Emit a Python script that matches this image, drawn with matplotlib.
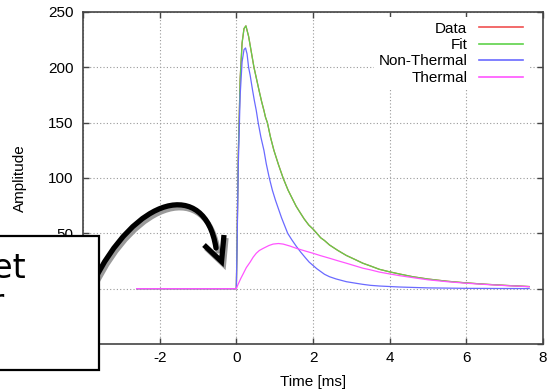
import matplotlib
matplotlib.use("Agg")
import matplotlib.pyplot as plt
from matplotlib.lines import Line2D
from matplotlib.patches import Rectangle, PathPatch
from matplotlib.path import Path
from matplotlib.transforms import offset_copy

plt.rcParams["font.family"] = ["Liberation Sans", "DejaVu Sans"]
plt.rcParams["axes.unicode_minus"] = False

# values (time in ms, amplitude)
data_t = [-2.6, -1.5, -0.5, 0.0, 0.02, 0.05, 0.10, 0.15, 0.20, 0.25, 0.32, 0.39, 0.46, 0.53,
          0.6, 0.66, 0.72, 0.76, 0.81, 0.89, 0.98, 1.1, 1.22, 1.35, 1.48, 1.56, 1.65, 1.77,
          1.89, 2.0, 2.1, 2.2, 2.3, 2.43, 2.65, 2.87, 3.1, 3.3, 3.5, 3.73, 4.0, 4.25, 4.6,
          5.0, 5.5, 6.0, 6.5, 7.0, 7.64]
data_y = [0, 0, 0, 0, 45, 120, 190, 222, 235, 237.5, 228, 214, 200, 189,
          178, 169, 161, 155, 150, 137, 125, 112, 100, 89, 80, 74.5, 69.5, 63,
          57.5, 53.9, 50, 46, 43.5, 39.5, 34.5, 30, 26.3, 23, 20.5, 17.5, 15.2, 13.3, 10.8,
          8.7, 6.7, 5.2, 4.0, 3.0, 1.9]

fit_t = [-2.6, -1.5, -0.5, 0.0, 0.02, 0.05, 0.10, 0.15, 0.20, 0.25, 0.32, 0.39, 0.46, 0.53,
         0.6, 0.66, 0.72, 0.76, 0.81, 0.89, 0.98, 1.1, 1.22, 1.35, 1.48, 1.56, 1.65, 1.77,
         1.89, 2.0, 2.1, 2.2, 2.3, 2.43, 2.65, 2.87, 3.1, 3.3, 3.5, 3.73, 4.0, 4.25, 4.6,
         5.0, 5.5, 6.0, 6.5, 7.0, 7.64]
fit_y = [0, 0, 0, 0, 45, 120, 190, 222, 235, 237.5, 228, 214, 200, 189,
         178, 169, 161, 155, 150, 137, 125, 112, 100, 89, 80, 74.5, 69.5, 63,
         57.5, 53.9, 50, 46, 43.5, 39.5, 34.5, 30, 26.3, 23, 20.5, 17.5, 15.2, 13.3, 10.8,
         8.7, 6.7, 5.2, 4.0, 3.0, 1.9]

nt_t = [-2.6, -1.5, -0.5, 0.0, 0.02, 0.05, 0.10, 0.15, 0.20, 0.24, 0.28, 0.32, 0.36, 0.42,
        0.47, 0.52, 0.57, 0.64, 0.72, 0.78, 0.86, 0.94, 1.02, 1.1, 1.18, 1.26, 1.34, 1.45,
        1.57, 1.68, 1.8, 1.9, 2.0, 2.1, 2.2, 2.3, 2.43, 2.6, 2.87, 3.1, 3.3, 3.5, 3.73,
        4.25, 5.0, 6.0, 7.0, 7.64]
nt_y = [0, 0, 0, 0, 40, 110, 175, 205, 216, 217.5, 212, 200, 193, 180,
        170, 161, 150, 137, 125, 113, 100, 89, 80, 72, 64, 57, 50, 44,
        38, 33, 28, 24, 21, 18, 15.5, 13, 10.8, 8.8, 6.3, 5, 3.9, 3, 2.4,
        1.5, 0.7, 0.3, 0.15, 0.1]

th_t = [-2.6, -1.5, -0.5, 0.0, 0.04, 0.08, 0.12, 0.18, 0.26, 0.36, 0.44, 0.52, 0.6, 0.7,
        0.85, 0.96, 1.1, 1.22, 1.4, 1.57, 1.8, 2.0, 2.2, 2.43, 2.65, 2.87, 3.1, 3.3, 3.5,
        3.73, 4.0, 4.25, 4.6, 5.0, 5.5, 6.0, 6.5, 7.0, 7.64]
th_y = [0, 0, 0, 0, 3.5, 6.5, 9.5, 13.5, 19, 24, 28.5, 32, 34.5, 36.4,
        39, 40.3, 40.8, 40.3, 38.5, 36.4, 34, 32, 29.8, 27.5, 25.2, 23, 20.6, 18.5, 17,
        15, 13.3, 11.8, 10, 8, 6.3, 4.9, 3.8, 2.8, 1.8]

labels = ["Data", "Fit", "Non-Thermal", "Thermal"]
colors = ["#f05050", "#5fd24a", "#6a6aff", "#ff55ff"]

W, H = 547, 392
fig = plt.figure(figsize=(W / 100, H / 100), dpi=100)
ax = fig.add_axes([83 / W, 1 - 344 / H, 460 / W, 332 / H])

series = [(data_t, data_y), (fit_t, fit_y), (nt_t, nt_y), (th_t, th_y)]
for (t, y), lab, c in zip(series, labels, colors):
    ax.plot(t, y, color=c, lw=0.9, label=lab)

ax.set_xlim(-4, 8)
ax.set_ylim(-50, 250)
ax.set_xticks([-4, -2, 0, 2, 4, 6, 8])
ax.set_yticks([-50, 0, 50, 100, 150, 200, 250])
ax.set_yticklabels(["", "0", "50", "100", "150", "200", "250"])
ax.grid(True, color="#999999", linestyle=(0, (1, 2)), lw=0.8)
ax.tick_params(direction="in", length=4.5, width=1.0, top=True, right=True,
               labelsize=11, color="#444444")
ax.tick_params(axis="x", pad=5)
ax.tick_params(axis="y", pad=7)
for s in ax.spines.values():
    s.set_color("#444444")
    s.set_linewidth(1.2)
ax.set_xlabel("Time [ms]", fontsize=11, labelpad=7)
ax.set_ylabel("Amplitude", fontsize=11, labelpad=15)

handles = [Line2D([], [], color=c, lw=1.2) for c in colors]
leg = ax.legend(handles, labels, loc="upper right", bbox_to_anchor=(0.967, 0.985),
                markerfirst=False, fontsize=11, handlelength=2.9, handletextpad=0.75,
                labelspacing=0.16, borderpad=0.3, borderaxespad=0, frameon=True,
                fancybox=False)
leg.get_frame().set_edgecolor("none")
leg.get_frame().set_facecolor("white")
leg.get_frame().set_alpha(1)
for txt in leg.get_texts():
    txt.set_ha("right")


def fx(x, y):
    return (x / W, 1 - y / H)


# curved arrow overlay (pixel positions of the slide annotation)
curve = [fx(92, 285), fx(135, 195), fx(205, 178), fx(216, 248)]
head = [fx(204, 245), fx(221.5, 261.5), fx(224, 235)]
shadow_tr = offset_copy(fig.transFigure, fig=fig, x=2, y=-3, units="dots")
for tr, col, z in [(shadow_tr, "#9a9a9a", 8), (fig.transFigure, "black", 9)]:
    p1 = PathPatch(Path(curve, [Path.MOVETO, Path.CURVE4, Path.CURVE4, Path.CURVE4]),
                   fill=False, lw=3.8, edgecolor=col, transform=tr, zorder=z,
                   capstyle="round")
    p2 = PathPatch(Path(head, [Path.MOVETO, Path.LINETO, Path.LINETO]),
                   fill=False, lw=3.8, edgecolor=col, transform=tr, zorder=z,
                   joinstyle="miter")
    fig.add_artist(p1)
    fig.add_artist(p2)

# text box cut off at the left edge, as on the slide
x0, y0 = fx(-10, 370)
x1, y1 = fx(99, 235.7)
box = Rectangle((x0, y0), x1 - x0, y1 - y0, transform=fig.transFigure,
                facecolor="white", edgecolor="black", lw=1.6, zorder=10)
fig.add_artist(box)
fig.text(26 / W, 1 - 278 / H, "Offset", ha="right", va="baseline", fontsize=24,
         family="DejaVu Sans", zorder=11)
fig.text(4 / W, 1 - 313 / H, "Trigger", ha="right", va="baseline", fontsize=24,
         family="DejaVu Sans", zorder=11)

fig.savefig("out.png", dpi=100)
